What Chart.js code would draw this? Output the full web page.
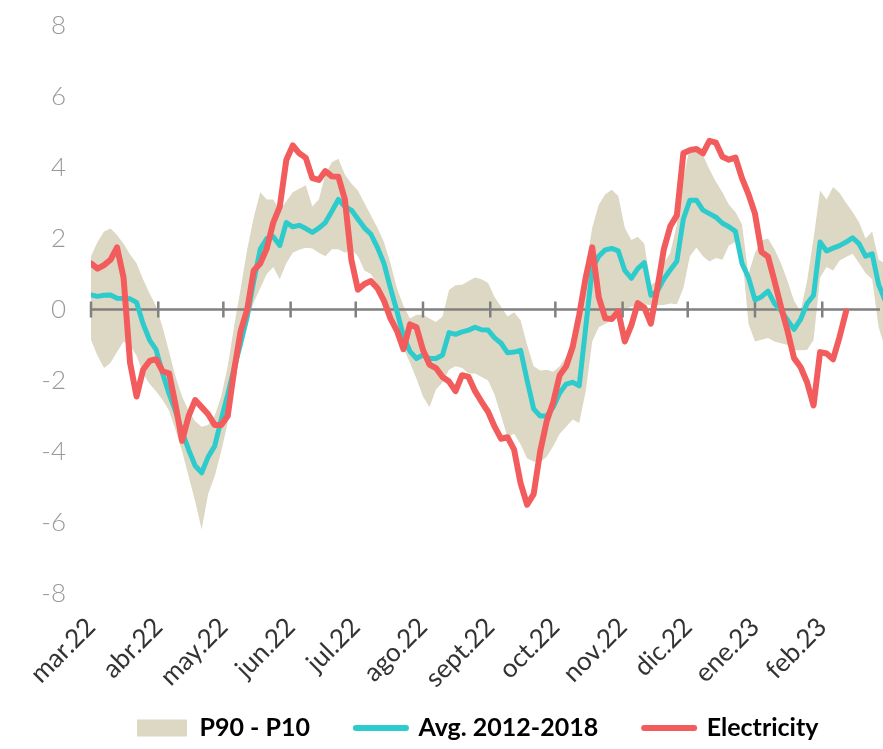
<!DOCTYPE html>
<html>
<head>
<meta charset="utf-8">
<script src="https://cdn.jsdelivr.net/npm/chart.js@4.4.1/dist/chart.umd.min.js"></script>
<style>
html,body{margin:0;padding:0;background:#fff;}
#wrap{width:883px;height:749px;position:relative;}
</style>
</head>
<body>
<div id="wrap"><canvas id="c" width="883" height="749"></canvas></div>
<script>
// Month tick positions (days since 1 Mar 2022) and their labels
const monthDays = [0,31,61,92,122,153,184,214,245,275,306,337];
const monthLabels = ['mar.22','abr.22','may.22','jun.22','jul.22','ago.22','sept.22','oct.22','nov.22','dic.22','ene.23','feb.23'];
const seriesNames = ['P90 - P10','Avg. 2012-2018','Electricity'];

// Sample days (every 3 days from 1 Mar 2022)
const days = [0,3,6,9,12,15,18,21,24,27,30,33,36,39,42,45,48,51,54,57,60,63,66,69,72,75,78,81,84,87,90,93,96,99,102,105,108,111,114,117,120,123,126,129,132,135,138,141,144,147,150,153,156,159,162,165,168,171,174,177,180,183,186,189,192,195,198,201,204,207,210,213,216,219,222,225,228,231,234,237,240,243,246,249,252,255,258,261,264,267,270,273,276,279,282,285,288,291,294,297,300,303,306,309,312,315,318,321,324,327,330,333,336,339,342,345,348,351,354,357,360,363,366];

const electricity = [1.3,1.15,1.25,1.4,1.75,0.9,-1.5,-2.45,-1.7,-1.45,
-1.4,-1.74,-1.8,-2.7,-3.7,-3.0,-2.55,-2.75,-2.95,-3.25,
-3.25,-3.0,-1.7,-0.6,0.0,1.1,1.3,1.72,2.45,2.9,
4.21,4.62,4.4,4.27,3.7,3.65,3.9,3.75,3.74,3.1,
1.4,0.56,0.72,0.8,0.6,0.25,-0.25,-0.6,-1.12,-0.42,
-0.5,-1.14,-1.55,-1.65,-1.9,-2.03,-2.3,-1.85,-1.9,-2.3,
-2.6,-2.88,-3.3,-3.64,-3.6,-3.95,-4.9,-5.5,-5.2,-4.0,
-3.15,-2.62,-1.85,-1.6,-1.05,-0.15,0.9,1.75,0.35,-0.25,
-0.27,-0.05,-0.9,-0.45,0.18,0.05,-0.4,0.6,1.7,2.35,
2.65,4.4,4.49,4.52,4.4,4.75,4.7,4.3,4.22,4.28,
3.7,3.25,2.7,1.62,1.49,0.8,0.07,-0.6,-1.37,-1.62,
-2.05,-2.7,-1.2,-1.24,-1.4,-0.77,-0.05,null,null,null,
null,null,null];

const avg = [0.41,0.37,0.4,0.41,0.32,0.31,0.3,0.2,-0.4,-0.86,
-1.13,-1.8,-2.38,-2.87,-3.45,-3.95,-4.4,-4.6,-4.15,-3.85,
-3.1,-2.4,-1.65,-0.95,-0.2,0.8,1.7,2.0,2.05,1.8,
2.45,2.33,2.37,2.28,2.17,2.29,2.45,2.77,3.1,2.9,
2.8,2.55,2.3,2.12,1.75,1.3,0.6,-0.05,-0.75,-1.18,
-1.38,-1.28,-1.38,-1.38,-1.28,-0.65,-0.7,-0.63,-0.58,-0.5,
-0.57,-0.58,-0.8,-0.95,-1.22,-1.2,-1.15,-2.0,-2.8,-3.0,
-3.0,-2.75,-2.35,-2.1,-2.05,-2.15,-0.5,1.15,1.5,1.68,
1.72,1.65,1.1,0.88,1.15,1.32,0.4,0.52,0.86,1.12,
1.36,2.55,3.08,3.08,2.8,2.7,2.6,2.43,2.33,2.2,
1.3,0.9,0.27,0.36,0.52,0.17,-0.03,-0.3,-0.56,-0.28,
0.17,0.4,1.9,1.65,1.73,1.8,1.9,2.02,1.85,1.5,
1.57,0.7,0.25];

const p90 = [1.5,1.9,2.2,2.28,2.1,1.85,1.55,1.3,0.85,0.45,
0.1,-0.5,-1.2,-1.9,-2.45,-2.85,-3.15,-3.3,-3.25,-3.0,
-2.45,-1.6,-0.45,0.6,1.7,2.6,3.3,3.1,3.1,2.8,
3.05,3.3,3.4,3.5,2.9,3.1,3.8,4.15,4.25,3.8,
3.55,3.35,3.0,2.65,2.3,1.9,1.3,0.6,0.1,-0.25,
-0.15,-0.15,-0.25,-0.35,-0.2,0.55,0.68,0.7,0.8,0.9,
0.85,0.75,0.35,0.08,-0.2,-0.08,-0.3,-1.0,-1.6,-1.72,
-1.7,-1.75,-1.6,-1.33,-0.9,0.0,1.2,2.3,2.95,3.25,
3.37,3.2,2.3,1.96,2.05,1.85,0.7,0.8,1.3,1.6,
2.4,3.7,4.6,4.55,4.35,3.95,3.6,3.3,2.95,2.75,
2.4,1.0,1.6,1.95,2.0,1.7,1.3,0.8,0.25,-0.05,
0.8,2.0,3.35,3.1,3.45,3.28,3.0,2.75,2.45,2.0,
2.2,1.4,1.3];

const p10 = [-0.85,-1.3,-1.65,-1.5,-1.2,-0.9,-1.0,-1.3,-1.8,-2.1,
-2.3,-2.55,-2.85,-3.4,-4.0,-4.7,-5.4,-6.2,-5.2,-4.7,
-4.0,-3.2,-2.2,-1.1,-0.35,0.2,0.6,1.0,1.2,0.85,
1.3,1.6,1.68,1.74,1.72,1.6,1.5,1.7,1.7,1.6,
1.7,1.5,1.1,1.0,0.7,0.2,-0.3,-0.7,-1.1,-1.5,
-1.95,-2.45,-2.75,-2.25,-2.05,-1.7,-1.6,-1.65,-1.8,-1.8,
-1.9,-2.0,-2.4,-3.0,-3.6,-3.5,-3.8,-4.2,-4.28,-4.3,
-4.15,-3.85,-3.5,-3.3,-3.1,-3.2,-2.3,-0.9,-0.5,-0.4,
-0.28,-0.2,0.0,0.08,0.1,0.15,0.12,0.12,0.13,0.17,
0.15,0.6,1.5,1.75,1.5,1.35,1.45,1.4,1.8,1.9,
1.6,-0.4,-0.9,-0.85,-0.8,-0.9,-0.95,-1.0,-1.15,-1.15,
-1.14,-0.86,0.9,1.2,1.1,1.38,1.48,1.57,1.3,1.02,
0.85,-0.5,-1.1];

const COL_BAND = '#DDD8C4';
const COL_AVG = '#2DCBCB';
const COL_ELEC = '#F25C5C';

const toPts = arr => arr.map((v, i) => ({x: days[i], y: v}));

const zeroLinePlugin = {
  id: 'zeroLine',
  beforeDraw(chart) {
    // let rotated x labels extend below the axis box (no clipping)
    chart.scales.x._computeLabelArea = () => undefined;
  },
  afterDatasetDraw(chart, args) {
    if (args.index !== 2) return;
    const {ctx, chartArea, scales} = chart;
    const y0 = scales.y.getPixelForValue(0);
    ctx.save();
    ctx.strokeStyle = '#808080';
    ctx.lineWidth = 2.5;
    ctx.beginPath();
    ctx.moveTo(chartArea.left, y0);
    ctx.lineTo(chartArea.right - 3, y0);
    monthDays.forEach(d => {
      const px = scales.x.getPixelForValue(d);
      ctx.moveTo(px, y0 - 8);
      ctx.lineTo(px, y0 + 8);
    });
    ctx.stroke();
    ctx.restore();
  }
};

new Chart(document.getElementById('c'), {
  type: 'line',
  data: {
    datasets: [
      {label: seriesNames[2], data: toPts(electricity), borderColor: COL_ELEC, borderWidth: 6,
       pointRadius: 0, fill: false, tension: 0, borderJoinStyle: 'round', borderCapStyle: 'round', spanGaps: false},
      {label: seriesNames[1], data: toPts(avg), borderColor: COL_AVG, borderWidth: 5,
       pointRadius: 0, fill: false, tension: 0, borderJoinStyle: 'round', borderCapStyle: 'round'},
      {label: 'P90', data: toPts(p90), borderColor: 'rgba(0,0,0,0)', borderWidth: 0,
       backgroundColor: COL_BAND, pointRadius: 0, fill: '+1', tension: 0},
      {label: 'P10', data: toPts(p10), borderColor: 'rgba(0,0,0,0)', borderWidth: 0,
       pointRadius: 0, fill: false, tension: 0}
    ]
  },
  options: {
    responsive: false,
    animation: false,
    devicePixelRatio: 1,
    layout: {padding: {top: 25.5, right: 0, bottom: -1.5, left: 0}},
    scales: {
      x: {
        type: 'linear', min: 0, max: 365,
        grid: {display: false, drawTicks: false}, border: {display: false},
        afterBuildTicks: s => { s.ticks = monthDays.map(v => ({value: v})); },
        ticks: {
          autoSkip: false, maxRotation: 45, minRotation: 45, padding: 18,
          color: '#333333', font: {family: 'Lato', size: 26},
          callback: (v, i) => monthLabels[i]
        },
        afterFit: s => { s.height = 76; s.paddingLeft = 0; s.paddingRight = 0; }
      },
      y: {
        min: -8, max: 8,
        grid: {display: false, drawTicks: false}, border: {display: false},
        ticks: {stepSize: 2, padding: 25, color: '#999999', font: {family: 'Lato', size: 26, weight: 300}},
        afterFit: s => { s.width = 91; s.paddingTop = 0; s.paddingBottom = 0; }
      }
    },
    plugins: {
      tooltip: {enabled: false},
      legend: {
        position: 'bottom',
        fullSize: false,
        align: 'start',
        labels: {
          usePointStyle: true,
          pointStyleWidth: 50,
          boxHeight: 17,
          padding: 46,
          color: '#1a1a1a',
          font: {family: 'Lato', size: 25, weight: 'bold'},
          generateLabels: () => [
            {text: seriesNames[0], fillStyle: COL_BAND, strokeStyle: COL_BAND, lineWidth: 0, pointStyle: 'rect', hidden: false, datasetIndex: 2},
            {text: seriesNames[1], fillStyle: COL_AVG, strokeStyle: COL_AVG, lineWidth: 6, lineCap: 'round', pointStyle: 'line', hidden: false, datasetIndex: 1},
            {text: seriesNames[2], fillStyle: COL_ELEC, strokeStyle: COL_ELEC, lineWidth: 6, lineCap: 'round', pointStyle: 'line', hidden: false, datasetIndex: 0}
          ]
        }
      }
    }
  },
  plugins: [zeroLinePlugin]
});
</script>
</body>
</html>
